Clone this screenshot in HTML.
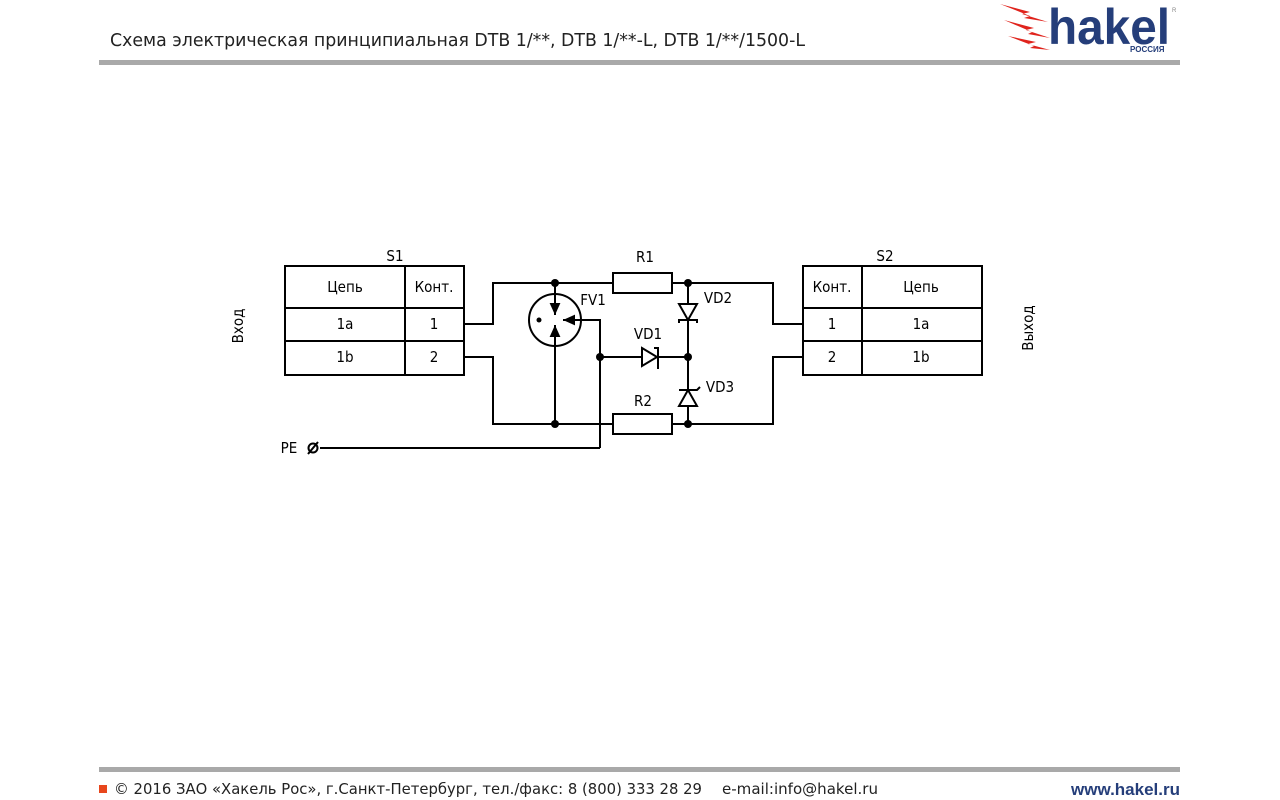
<!DOCTYPE html>
<html><head><meta charset="utf-8"><style>
html,body{margin:0;padding:0;background:#fff;}
body{width:1280px;height:800px;position:relative;overflow:hidden;font-family:"Liberation Sans",sans-serif;}
</style></head><body>
<svg width="1280" height="800" viewBox="0 0 1280 800" xmlns="http://www.w3.org/2000/svg" style="position:absolute;left:0;top:0">
<defs>
<marker id="ah" viewBox="0 0 10 10" refX="10" refY="5" markerWidth="12" markerHeight="12" markerUnits="userSpaceOnUse" orient="auto"><path d="M0,0.5 L10,5 L0,9.5 Z" fill="#000"/></marker>
</defs>
<text x="110" y="46" font-family="DejaVu Sans Condensed, Liberation Sans, sans-serif" font-size="18" fill="#222" textLength="695" lengthAdjust="spacingAndGlyphs">Схема электрическая принципиальная DTB 1/**, DTB 1/**-L, DTB 1/**/1500-L</text>
<rect x="99" y="60" width="1081" height="5" fill="#a9a9a9"/>
<rect x="99" y="767" width="1081" height="5" fill="#a9a9a9"/>
<g fill="#e0231c">
<path d="M1000,4 L1030,12 L1022,14 L1048,22 L1024,18 L1030,16 Z"/>
<path d="M1004,20 L1034,28 L1026,30 L1050,38 L1028,34 L1032,32 Z"/>
<path d="M1008,36 L1036,42 L1028,44 L1050,50 L1030,48 L1034,46 Z"/>
</g>
<text x="1048" y="44" font-family="Liberation Sans, sans-serif" font-weight="bold" font-size="50" fill="#253e7a" textLength="122" lengthAdjust="spacingAndGlyphs">hakel</text>
<text x="1130" y="52" font-family="Liberation Sans, sans-serif" font-weight="bold" font-size="8" fill="#253e7a">РОССИЯ</text>
<text x="1172" y="12" font-size="6" fill="#888">R</text>
<rect x="99" y="785" width="8" height="8" fill="#e8461c"/>
<text x="114" y="794" font-family="DejaVu Sans, sans-serif" font-size="15" fill="#222" textLength="588" lengthAdjust="spacingAndGlyphs">© 2016 ЗАО «Хакель Рос», г.Санкт-Петербург, тел./факс: 8 (800) 333 28 29</text>
<text x="722" y="794" font-family="DejaVu Sans, sans-serif" font-size="15" fill="#222" textLength="156" lengthAdjust="spacingAndGlyphs">e-mail:info@hakel.ru</text>
<text x="1180" y="795" text-anchor="end" font-family="Liberation Sans, sans-serif" font-weight="bold" font-size="17" fill="#253e7a">www.hakel.ru</text>

<g stroke="#000" stroke-width="2" fill="none">
<rect x="285" y="266" width="179" height="109"/>
<line x1="285" y1="308" x2="464" y2="308"/><line x1="285" y1="341" x2="464" y2="341"/>
<line x1="405" y1="266" x2="405" y2="375"/>
<rect x="803" y="266" width="179" height="109"/>
<line x1="803" y1="308" x2="982" y2="308"/><line x1="803" y1="341" x2="982" y2="341"/>
<line x1="862" y1="266" x2="862" y2="375"/>
<polyline points="464,324 493,324 493,283 613,283"/>
<polyline points="672,283 773,283 773,324 803,324"/>
<polyline points="464,357 493,357 493,424 613,424"/>
<polyline points="672,424 773,424 773,357 803,357"/>
<line x1="688" y1="283" x2="688" y2="424"/>
<rect x="613" y="273" width="59" height="20"/>
<rect x="613" y="414" width="59" height="20"/>
<circle cx="555" cy="320" r="26"/>
<line x1="555" y1="283" x2="555" y2="315" marker-end="url(#ah)"/>
<line x1="555" y1="424" x2="555" y2="325" marker-end="url(#ah)"/>
<polyline points="600,448 600,320 563,320" marker-end="url(#ah)"/>
<line x1="600" y1="357" x2="688" y2="357"/>
<line x1="320" y1="448" x2="600" y2="448"/>
<circle cx="313" cy="448" r="4.5"/>
<line x1="308" y1="454" x2="318" y2="442"/>
<path d="M642,348 L657,357 L642,366 Z" fill="#fff"/>
<polyline points="654,348 658,348 658,369"/>
<path d="M679,304 L697,304 L688,320 Z" fill="#fff"/>
<polyline points="679,323 679,320 697,320 697,323"/>
<path d="M679,406 L697,406 L688,390 Z" fill="#fff"/>
<polyline points="679,390 697,390 700,387"/>
</g>
<g fill="#000">
<circle cx="555" cy="283" r="4"/><circle cx="555" cy="424" r="4"/>
<circle cx="688" cy="283" r="4"/><circle cx="688" cy="424" r="4"/>
<circle cx="688" cy="357" r="4"/><circle cx="600" cy="357" r="4"/>
<circle cx="539" cy="320" r="2.5"/>
</g>
<g font-family="DejaVu Sans Condensed, Liberation Sans, sans-serif" font-size="15" fill="#000" text-anchor="middle">
<text x="395" y="261">S1</text><text x="885" y="261">S2</text>
<text x="345" y="292">Цепь</text><text x="434" y="292">Конт.</text>
<text x="345" y="329">1a</text><text x="434" y="329">1</text>
<text x="345" y="362">1b</text><text x="434" y="362">2</text>
<text x="832" y="292">Конт.</text><text x="921" y="292">Цепь</text>
<text x="832" y="329">1</text><text x="921" y="329">1a</text>
<text x="832" y="362">2</text><text x="921" y="362">1b</text>
<text x="645" y="262">R1</text><text x="643" y="406">R2</text>
<text x="593" y="305">FV1</text><text x="648" y="339">VD1</text>
<text x="718" y="303">VD2</text><text x="720" y="392">VD3</text>
<text x="289" y="453">PE</text>
<text transform="translate(243,326) rotate(-90)">Вход</text>
<text transform="translate(1033,328) rotate(-90)">Выход</text>
</g>
</svg>
</body></html>
